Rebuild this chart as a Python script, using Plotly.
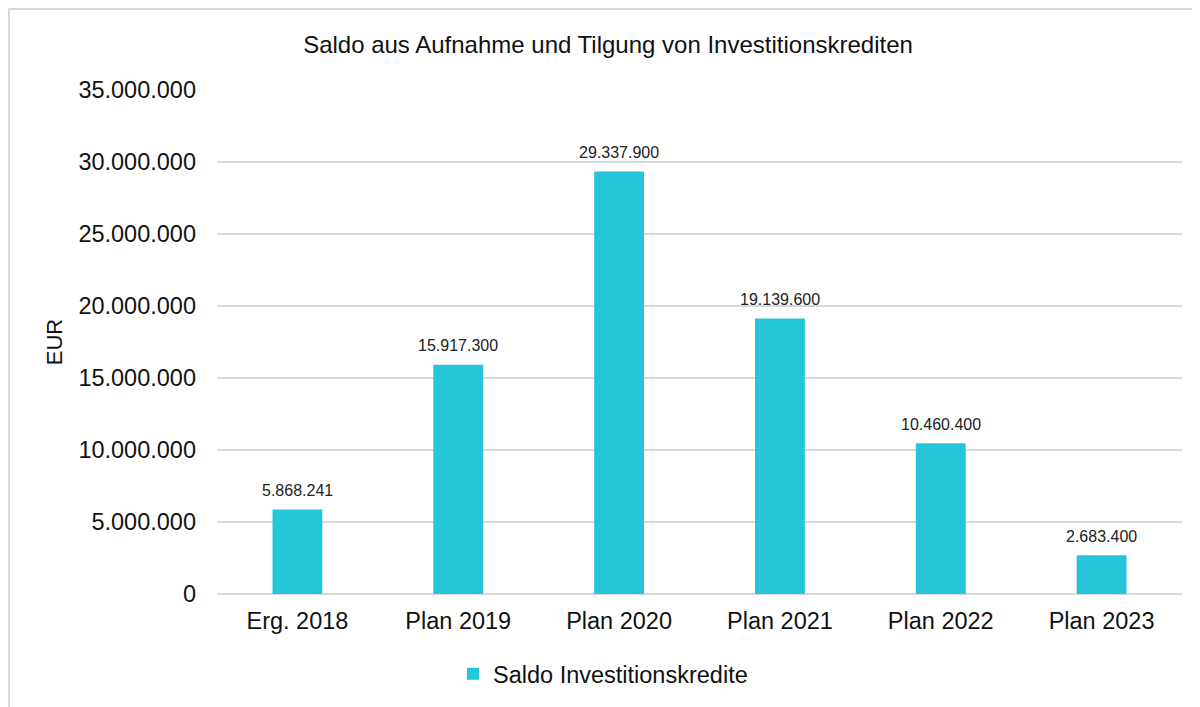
import plotly.graph_objects as go

categories = ["Erg. 2018", "Plan 2019", "Plan 2020", "Plan 2021", "Plan 2022", "Plan 2023"]
values = [5868241, 15917300, 29337900, 19139600, 10460400, 2683400]
series_name = "Saldo Investitionskredite"
y_ticks = [0, 5000000, 10000000, 15000000, 20000000, 25000000, 30000000, 35000000]

W, H = 1200, 707
L, R, T, B = 209, 26, 82, 121
pw, ph = W - L - R, H - T - B

def px_x(x):
    return (x - L) / pw

def px_y(y):
    return (H - B - y) / ph

FONT = "Liberation Sans, Arial, sans-serif"
TXT = "#111111"

fig = go.Figure()
fig.add_trace(go.Bar(
    x=categories, y=values, name=series_name,
    marker=dict(color="#26C6DA", line=dict(width=0)),
    width=0.31,
    showlegend=True,
))

annotations = []
for c, v in zip(categories, values):
    annotations.append(dict(
        x=c, y=v, xref="x", yref="y",
        text=f"{v:,.0f}".replace(",", "."),
        showarrow=False, yanchor="middle", yshift=19,
        font=dict(size=16, color="#222222", family=FONT),
    ))

fig.update_layout(
    width=W, height=H,
    margin=dict(l=L, r=R, t=T, b=B),
    paper_bgcolor="white", plot_bgcolor="white",
    separators=",.",
    font=dict(family=FONT, color="#000000"),
    title=dict(text="Saldo aus Aufnahme und Tilgung von Investitionskrediten",
               x=600 / W, xanchor="center", y=1 - 37 / H, yanchor="middle",
               font=dict(size=24, color=TXT, family=FONT)),
    showlegend=True,
    legend=dict(orientation="h", x=px_x(445), xanchor="left", y=px_y(666), yanchor="middle",
                font=dict(size=23.5, color=TXT, family=FONT),
                traceorder="normal"),
    xaxis=dict(showgrid=False, showline=False, ticks="",
               tickfont=dict(size=23.5, color=TXT, family=FONT),
               ticklabelstandoff=10),
    yaxis=dict(range=[0, 35000000], tickvals=y_ticks, tickformat=",.0f",
               showgrid=True, gridcolor="#d9d9d9", gridwidth=2,
               zeroline=True, zerolinecolor="#d9d9d9", zerolinewidth=2,
               showline=False, ticks="",
               tickfont=dict(size=23.5, color=TXT, family=FONT),
               ticklabelstandoff=20,
               title=dict(text="EUR", font=dict(size=22, color=TXT, family=FONT), standoff=9)),
    annotations=annotations,
    shapes=[dict(type="rect", xref="paper", yref="paper",
                 x0=px_x(1), x1=px_x(1260), y0=px_y(760), y1=px_y(1),
                 line=dict(color="#d9d9d9", width=2), fillcolor="rgba(0,0,0,0)", layer="below")],
)

fig.write_html("out.html")
